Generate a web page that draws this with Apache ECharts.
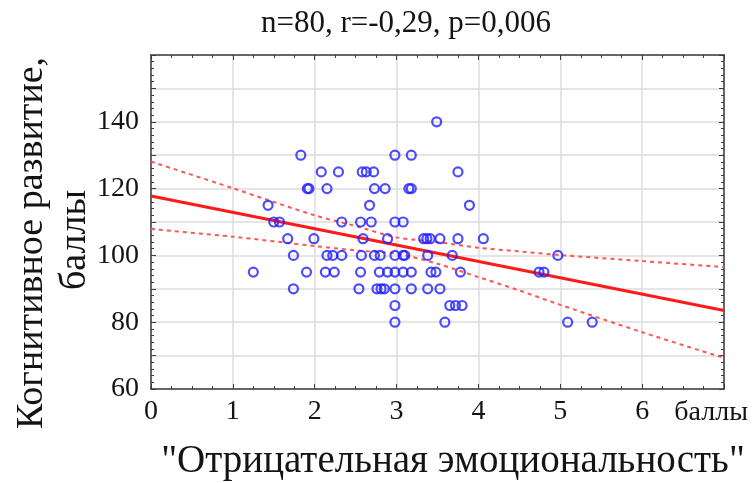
<!DOCTYPE html>
<html>
<head>
<meta charset="utf-8">
<script src="https://cdn.jsdelivr.net/npm/echarts@6/dist/echarts.min.js"></script>
<style>html,body{margin:0;padding:0;background:#fff}#c{width:755px;height:483px}</style>
</head>
<body>
<div id="c"></div>
<script>
// Scatter points: "Отрицательная эмоциональность" (x) vs "Когнитивное развитие" (y)
var scoreX = [
  1.83, 2.98, 3.18,
  3.49,
  2.08, 2.29, 2.58, 2.63, 2.72, 3.75,
  1.91, 1.93, 2.15, 2.73, 2.86, 3.15, 3.18,
  1.43, 2.67, 3.89,
  1.50, 1.57, 2.33, 2.56, 2.69, 2.98, 3.08,
  1.67, 1.99, 2.59, 2.89, 3.33, 3.37, 3.41, 3.53, 3.75, 4.06,
  1.74, 2.15, 2.22, 2.33, 2.57, 2.73, 2.80, 2.98, 3.08, 3.10, 3.38, 3.68, 4.97,
  1.25, 1.90, 2.13, 2.24, 2.56, 2.79, 2.89, 2.98, 3.08, 3.18, 3.42, 3.48, 3.78, 4.74, 4.80,
  1.74, 2.54, 2.76, 2.81, 2.85, 2.98, 3.18, 3.38, 3.53,
  2.98, 3.65, 3.72, 3.80,
  2.98, 3.59, 5.09, 5.39
];
var scoreY = [
  130, 130, 130,
  140,
  125, 125, 125, 125, 125, 125,
  120, 120, 120, 120, 120, 120, 120,
  115, 115, 115,
  110, 110, 110, 110, 110, 110, 110,
  105, 105, 105, 105, 105, 105, 105, 105, 105, 105,
  100, 100, 100, 100, 100, 100, 100, 100, 100, 100, 100, 100, 100,
  95, 95, 95, 95, 95, 95, 95, 95, 95, 95, 95, 95, 95, 95, 95,
  90, 90, 90, 90, 90, 90, 90, 90, 90,
  85, 85, 85, 85,
  80, 80, 80, 80
];
// Regression line (read at ends)
var fitX = [0, 7];
var fitY = [117.8, 83.5];
// 95% confidence band
var bandX = [0, 1, 2, 2.5, 3, 3.5, 4, 4.5, 5, 6, 7];
var bandUpper = [128.1, 120.1, 112.0, 108.8, 105.4, 104.0, 102.3, 101.2, 100.1, 98.3, 96.5];
var bandLower = [107.9, 105.6, 102.8, 101.5, 100.5, 97.5, 93.5, 89.5, 85.2, 77.0, 69.3];
// Axis ticks
var xTicks = [0, 1, 2, 3, 4, 5, 6];
var yTickLabels = [60, 80, 100, 120, 140];
var titleText = 'n=80, r=-0,29, p=0,006';
var xUnit = 'баллы';
var xTitle = '"Отрицательная эмоциональность"';
var yTitle = 'Когнитивное развитие,';
var yTitle2 = 'баллы';

function zip(a, b) { return a.map(function (v, i) { return [v, b[i]]; }); }

var FONT = 'Liberation Serif';
var axisCol = '#3c3c3c';
var gridCol = '#dcdcdc';
var txtCol = '#141414';

function xAx(pos, main) {
  return {
    type: 'value', position: pos, min: 0, max: 7, interval: 1,
    axisLine: { show: true, onZero: false, lineStyle: { color: axisCol, width: 1.5 } },
    axisTick: { show: true, inside: true, length: 5, lineStyle: { color: axisCol, width: 1 } },
    minorTick: { show: true, splitNumber: 4, length: 3, lineStyle: { color: axisCol, width: 1 } },
    splitLine: { show: main, lineStyle: { color: gridCol, width: 1.5 } },
    axisLabel: {
      show: main, margin: 9, fontFamily: FONT, fontSize: 28, color: txtCol,
      formatter: function (v) { return xTicks.indexOf(v) >= 0 ? String(v) : ''; }
    },
    name: main ? xUnit : '', nameLocation: 'end', nameGap: 24,
    nameTextStyle: { fontFamily: FONT, fontSize: 28, color: txtCol, align: 'right', verticalAlign: 'top', padding: [10, 0, 0, 0] }
  };
}
function yAx(pos, main) {
  return {
    type: 'value', position: pos, min: 60, max: 160, interval: 10,
    axisLine: { show: true, onZero: false, lineStyle: { color: axisCol, width: 1.5 } },
    axisTick: { show: true, inside: true, length: 5, lineStyle: { color: axisCol, width: 1 } },
    minorTick: { show: true, splitNumber: 5, length: 3, lineStyle: { color: axisCol, width: 1 } },
    splitLine: { show: main, lineStyle: { color: gridCol, width: 1.5 } },
    axisLabel: {
      show: main, margin: 12, fontFamily: FONT, fontSize: 28, color: txtCol,
      formatter: function (v) { return yTickLabels.indexOf(v) >= 0 ? String(v) : ''; }
    }
  };
}

var chart = echarts.init(document.getElementById('c'), null, { renderer: 'canvas' });
chart.setOption({
  animation: false,
  backgroundColor: '#ffffff',
  grid: { left: 151, top: 55, right: 31, bottom: 94, containLabel: false },
  xAxis: [xAx('bottom', true), xAx('top', false)],
  yAxis: [yAx('left', true), yAx('right', false)],
  graphic: [
    { type: 'text', x: 406, y: 24, style: { text: titleText, font: '31px "Liberation Serif"', fill: txtCol, align: 'center', verticalAlign: 'middle' } },
    { type: 'text', x: 453, y: 462, style: { text: xTitle, font: '39px "Liberation Serif"', fill: txtCol, align: 'center', verticalAlign: 'middle' } },
    { type: 'text', x: 32, y: 243, rotation: Math.PI / 2, style: { text: yTitle, font: '38px "Liberation Serif"', fill: txtCol, align: 'center', verticalAlign: 'middle' } },
    { type: 'text', x: 75, y: 240, rotation: Math.PI / 2, style: { text: yTitle2, font: '38px "Liberation Serif"', fill: txtCol, align: 'center', verticalAlign: 'middle' } }
  ],
  series: [
    {
      type: 'line', data: zip(bandX, bandUpper), smooth: 0.3, symbol: 'none', z: 3,
      lineStyle: { color: '#ff5555', width: 2, type: [4, 4] }
    },
    {
      type: 'line', data: zip(bandX, bandLower), smooth: 0.3, symbol: 'none', z: 3,
      lineStyle: { color: '#ff5555', width: 2, type: [4, 4] }
    },
    {
      type: 'line', data: zip(fitX, fitY), symbol: 'none', z: 4,
      lineStyle: { color: '#ff1a1a', width: 3 }
    },
    {
      type: 'scatter', data: zip(scoreX, scoreY), symbol: 'circle', symbolSize: 9, z: 5,
      itemStyle: { color: 'rgba(0,0,0,0)', borderColor: '#2020ff', borderWidth: 2.2 }
    }
  ]
});
</script>
</body>
</html>
